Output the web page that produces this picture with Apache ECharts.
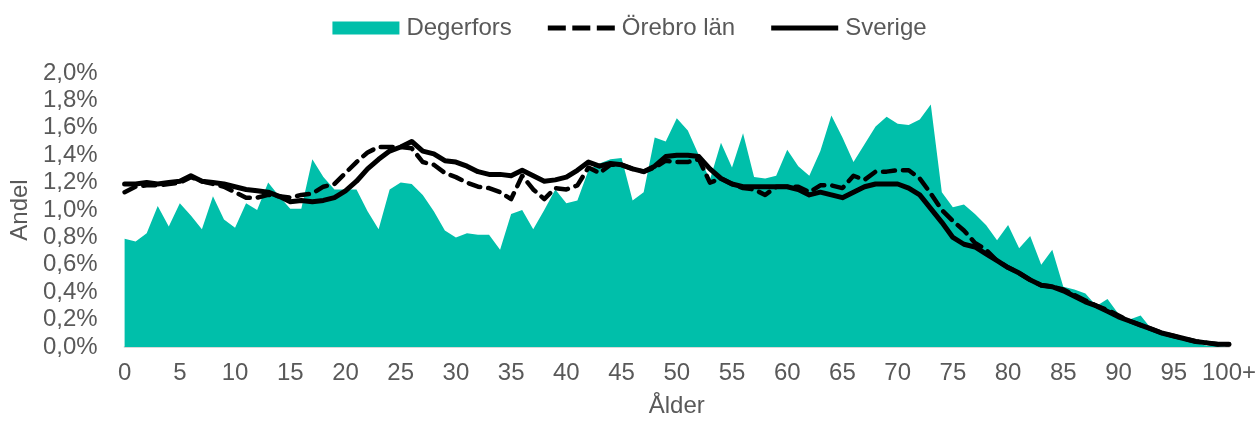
<!DOCTYPE html>
<html>
<head>
<meta charset="utf-8">
<script src="https://cdn.jsdelivr.net/npm/echarts@6/dist/echarts.min.js"></script>
<style>
html, body { margin: 0; padding: 0; background: #fff; }
#chart { width: 1259px; height: 423px; }
</style>
</head>
<body>
<div id="chart"></div>
<script>
// ålder 0..99 samt 100+
let ages = [];
for (let i = 0; i < 100; i++) ages.push(String(i));
ages.push('100+');

let degerfors = [
	0.79, 0.77, 0.83, 1.03, 0.88, 1.05, 0.96, 0.86, 1.10, 0.93,
	0.87, 1.05, 1.00, 1.20, 1.10, 1.01, 1.01, 1.37, 1.24, 1.15,
	1.15, 1.15, 0.99, 0.86, 1.15, 1.20, 1.19, 1.11, 0.99, 0.85,
	0.80, 0.83, 0.82, 0.82, 0.71, 0.97, 1.00, 0.86, 1.00, 1.15,
	1.05, 1.07, 1.29, 1.34, 1.37, 1.38, 1.07, 1.13, 1.53, 1.50,
	1.67, 1.58, 1.40, 1.22, 1.49, 1.31, 1.56, 1.24, 1.23, 1.25,
	1.44, 1.32, 1.25, 1.43, 1.69, 1.53, 1.35, 1.48, 1.61, 1.68,
	1.63, 1.62, 1.66, 1.77, 1.13, 1.02, 1.04, 0.97, 0.89, 0.78,
	0.89, 0.72, 0.81, 0.60, 0.71, 0.44, 0.42, 0.39, 0.30, 0.35,
	0.24, 0.20, 0.23, 0.13, 0.10, 0.08, 0.05, 0.03, 0.01, 0.01,
	0.01
];

let orebro = [
	1.13, 1.17, 1.18, 1.18, 1.19, 1.20, 1.24, 1.21, 1.19, 1.17,
	1.13, 1.09, 1.09, 1.11, 1.10, 1.09, 1.11, 1.12, 1.17, 1.19,
	1.27, 1.35, 1.42, 1.46, 1.46, 1.46, 1.45, 1.35, 1.33, 1.27,
	1.24, 1.20, 1.17, 1.16, 1.13, 1.08, 1.25, 1.15, 1.08, 1.16,
	1.15, 1.18, 1.31, 1.27, 1.33, 1.33, 1.30, 1.28, 1.31, 1.36,
	1.35, 1.35, 1.37, 1.20, 1.23, 1.19, 1.16, 1.15, 1.11, 1.17,
	1.17, 1.17, 1.13, 1.18, 1.18, 1.16, 1.25, 1.22, 1.28, 1.28,
	1.29, 1.29, 1.23, 1.12, 1.00, 0.92, 0.85, 0.76, 0.71, 0.63,
	0.58, 0.54, 0.49, 0.45, 0.44, 0.42, 0.38, 0.34, 0.30, 0.27,
	0.23, 0.19, 0.16, 0.13, 0.10, 0.08, 0.06, 0.04, 0.03, 0.02,
	0.02
];

let sverige = [
	1.19, 1.19, 1.20, 1.19, 1.20, 1.21, 1.25, 1.21, 1.20, 1.19,
	1.17, 1.15, 1.14, 1.13, 1.10, 1.06, 1.07, 1.06, 1.07, 1.09,
	1.14, 1.21, 1.30, 1.37, 1.43, 1.46, 1.50, 1.43, 1.41, 1.36,
	1.35, 1.32, 1.28, 1.26, 1.26, 1.25, 1.29, 1.25, 1.21, 1.22,
	1.24, 1.29, 1.35, 1.32, 1.34, 1.33, 1.30, 1.28, 1.32, 1.39,
	1.40, 1.40, 1.39, 1.30, 1.23, 1.19, 1.17, 1.17, 1.17, 1.17,
	1.17, 1.15, 1.11, 1.13, 1.11, 1.09, 1.13, 1.17, 1.19, 1.19,
	1.19, 1.16, 1.11, 1.01, 0.91, 0.80, 0.75, 0.73, 0.68, 0.63,
	0.58, 0.54, 0.49, 0.45, 0.44, 0.41, 0.37, 0.33, 0.30, 0.26,
	0.22, 0.19, 0.16, 0.13, 0.10, 0.08, 0.06, 0.04, 0.03, 0.02,
	0.02
];

let FONT = 'Liberation Sans, Arial, sans-serif';
let GREY = '#595959';
let TEAL = '#00BFAA';

// legend-ikoner (67x13 ruta)
let DASH_ICON = 'path://M0,0M67,13M0,4h18v5h-18zM24.5,4h18v5h-18zM49,4h18v5h-18z';
let LINE_ICON = 'path://M0,0M67,13M0,4h67v5h-67z';

let myChart = echarts.init(document.getElementById('chart'));
let option = {
	animation: false,
	textStyle: { fontFamily: FONT },
	legend: {
		top: 11,
		left: 'center',
		itemWidth: 67,
		itemHeight: 13,
		itemGap: 36,
		textStyle: { color: GREY, fontSize: 24, fontFamily: FONT, padding: [0, 0, 0, 2] },
		data: [
			{ name: 'Degerfors', icon: 'rect' },
			{ name: 'Örebro län', icon: DASH_ICON, itemStyle: { color: '#000' } },
			{ name: 'Sverige', icon: LINE_ICON, itemStyle: { color: '#000' } }
		]
	},
	grid: {
		left: 122,
		right: 26,
		top: 73,
		bottom: 72,
		containLabel: false
	},
	xAxis: {
		type: 'category',
		data: ages,
		boundaryGap: false,
		name: 'Ålder',
		nameLocation: 'middle',
		nameGap: 47,
		nameTextStyle: { color: GREY, fontSize: 24, fontFamily: FONT },
		axisLine: { lineStyle: { color: '#d9d9d9', width: 2 } },
		axisTick: { show: false },
		axisLabel: {
			interval: 4,
			color: GREY,
			fontSize: 24,
			fontFamily: FONT,
			margin: 14
		},
		splitLine: { show: false }
	},
	yAxis: {
		type: 'value',
		min: 0,
		max: 2,
		interval: 0.2,
		name: 'Andel',
		nameLocation: 'middle',
		nameGap: 92,
		nameTextStyle: { color: GREY, fontSize: 24, fontFamily: FONT },
		axisLine: { show: false },
		axisTick: { show: false },
		splitLine: { show: false },
		axisLabel: {
			color: GREY,
			fontSize: 24,
			fontFamily: FONT,
			margin: 27,
			formatter: function(v) {
				return v.toFixed(1).replace('.', ',') + '%';
			}
		}
	},
	series: [
		{
			name: 'Degerfors',
			type: 'line',
			data: degerfors,
			symbol: 'none',
			itemStyle: { color: TEAL },
			lineStyle: { width: 0 },
			areaStyle: { color: TEAL, opacity: 1 },
			z: 1
		},
		{
			name: 'Örebro län',
			type: 'line',
			data: orebro,
			symbol: 'none',
			itemStyle: { color: '#000' },
			lineStyle: { color: '#000', width: 4.5, type: [12, 8], cap: 'round', join: 'round' },
			z: 2
		},
		{
			name: 'Sverige',
			type: 'line',
			data: sverige,
			symbol: 'none',
			itemStyle: { color: '#000' },
			lineStyle: { color: '#000', width: 5, cap: 'round', join: 'round' },
			z: 3
		}
	]
};

option && myChart.setOption(option);
</script>
</body>
</html>
